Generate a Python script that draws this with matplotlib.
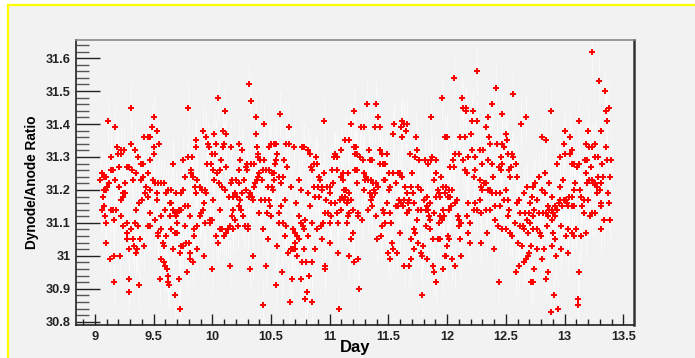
import numpy as np
import matplotlib
matplotlib.use("Agg")
import matplotlib.pyplot as plt
from matplotlib.patches import Rectangle
from matplotlib.lines import Line2D
from matplotlib.ticker import MultipleLocator, FormatStrFormatter

plt.rcParams['font.family'] = ['Liberation Sans', 'DejaVu Sans']

# (day, dynode/anode ratio), grouped by day range
pts_a = [(9.312,31.45),(9.116,31.41),(9.176,31.39),(9.500,31.42),(9.491,31.39),(9.528,31.38),(9.420,31.36),(9.449,31.36),
         (9.471,31.36),(9.312,31.34),(9.545,31.34),(9.193,31.33),(9.500,31.33),(9.338,31.32),(9.227,31.32),(9.250,31.32),
         (9.199,31.31),(9.219,31.31),(9.508,31.31),(9.142,31.30),(9.366,31.30),(9.474,31.29),(9.392,31.28),(9.412,31.28),
         (9.662,31.28),(9.139,31.26),(9.156,31.26),(9.210,31.27),(9.270,31.27),(9.287,31.27),(9.318,31.26),(9.349,31.25),
         (9.060,31.25),(9.077,31.24),(9.048,31.23),(9.094,31.24),(9.412,31.24),(9.454,31.25),(9.176,31.23),(9.327,31.23),
         (9.395,31.23),(9.125,31.22),(9.494,31.23),(9.511,31.22),(9.537,31.22),(9.565,31.22),(9.588,31.22),(9.108,31.21),
         (9.261,31.22),(9.202,31.21),(9.437,31.21),(9.099,31.20),(9.082,31.20),(9.236,31.19),(9.261,31.19),(9.474,31.20),
         (9.625,31.20),(9.645,31.20),(9.690,31.19),(9.605,31.19),(9.429,31.19),(9.071,31.18),(9.244,31.18),(9.449,31.18),
         (9.400,31.17),(9.227,31.17),(9.378,31.16),(9.531,31.19),(9.531,31.17),(9.650,31.16),(9.077,31.15),(9.060,31.14),
         (9.139,31.14),(9.159,31.14),(9.184,31.14),(9.355,31.14),(9.596,31.14),(9.466,31.13),(9.662,31.14),(9.679,31.13),
         (9.091,31.12),(9.219,31.12),(9.560,31.12),(9.636,31.12),(9.165,31.11),(9.511,31.11),(9.099,31.10),(9.270,31.10),
         (9.338,31.10),(9.244,31.09),(9.369,31.09),(9.449,31.09),(9.474,31.09),(9.304,31.08),(9.562,31.08),(9.645,31.08),
         (9.278,31.07),(9.534,31.07),(9.679,31.07),(9.537,31.06),(9.605,31.06),(9.270,31.05),(9.321,31.05),(9.389,31.05),
         (9.099,31.04),(9.577,31.04),(9.585,31.03),(9.332,31.03),(9.423,31.03),(9.295,31.02),(9.363,31.02),(9.662,31.02),
         (9.355,31.01),(9.162,31.00),(9.133,30.99),(9.213,31.00),(9.565,30.99),(9.585,30.98),(9.599,30.97),(9.613,30.96),
         (9.619,30.94),(9.287,30.93),(9.551,30.93),(9.165,30.92),(9.619,30.92),(9.628,30.91),(9.380,30.91),(9.287,30.89),
         (9.679,30.88)]

pts_b = [(9.792,31.45),(10.048,31.48),(10.108,31.44),(10.312,31.52),(10.329,31.47),(10.372,31.42),(10.440,31.40),
         (10.372,31.37),(10.380,31.33),(9.917,31.38),(9.943,31.36),(10.011,31.37),(10.091,31.38),(10.116,31.37),
         (9.861,31.35),(9.861,31.33),(9.963,31.34),(10.028,31.34),(10.099,31.34),(9.971,31.33),(10.088,31.33),
         (10.159,31.33),(10.227,31.34),(10.253,31.32),(9.994,31.31),(10.020,31.31),(10.386,31.31),(10.389,31.30),
         (9.792,31.30),(9.824,31.30),(9.747,31.29),(10.074,31.29),(10.233,31.29),(10.406,31.29),(10.440,31.29),
         (9.665,31.28),(9.954,31.28),(9.986,31.28),(10.113,31.27),(10.298,31.28),(10.329,31.28),(10.355,31.28),
         (10.284,31.27),(10.298,31.26),(10.224,31.26),(10.005,31.26),(10.065,31.26),(10.432,31.26),(9.818,31.26),
         (9.815,31.25),(9.770,31.24),(9.838,31.24),(10.040,31.25),(10.400,31.25),(10.389,31.24),(9.872,31.23),
         (10.014,31.23),(10.170,31.23),(10.204,31.23),(10.273,31.23),(10.378,31.23),(10.366,31.22),(9.852,31.21),
         (9.895,31.21),(9.912,31.20),(9.934,31.20),(10.054,31.22),(10.082,31.21),(10.108,31.20),(10.162,31.22),
         (10.227,31.22),(10.355,31.21),(9.747,31.20),(9.738,31.19),(9.863,31.19),(9.946,31.19),(10.190,31.19),
         (10.250,31.19),(10.287,31.20),(10.321,31.19),(10.142,31.18),(10.173,31.18),(10.210,31.18),(10.312,31.18),
         (10.335,31.18),(10.344,31.17),(10.417,31.17),(10.449,31.17),(9.639,31.16),(9.929,31.16),(10.005,31.17),
         (10.238,31.17),(9.713,31.14),(9.764,31.15),(9.795,31.15),(9.917,31.14),(10.065,31.14),(10.179,31.14),
         (10.230,31.15),(10.241,31.14),(9.696,31.13),(9.730,31.14),(9.906,31.13),(10.400,31.13),(9.693,31.12),
         (9.809,31.12),(9.898,31.12),(10.264,31.12),(10.196,31.11),(10.167,31.12),(9.704,31.10),(9.767,31.09),
         (9.872,31.09),(9.937,31.10),(9.977,31.11),(9.997,31.11),(9.977,31.10),(10.153,31.09),(10.221,31.09),
         (10.275,31.09),(10.307,31.09),(10.301,31.08),(9.702,31.07),(9.844,31.08),(10.062,31.08),(10.085,31.08),
         (10.133,31.08),(10.173,31.08),(10.434,31.08),(9.841,31.06),(10.028,31.06),(10.099,31.06),(10.116,31.07),
         (9.738,31.03),(9.755,31.03),(9.778,31.04),(9.798,31.04),(9.724,31.01),(9.807,31.01),(9.869,31.02),
         (10.048,31.04),(9.812,30.99),(9.832,30.98),(9.929,31.00),(10.346,31.00),(9.781,30.95),(9.994,30.96),
         (10.150,30.97),(10.321,30.96),(9.713,30.93),(9.724,30.84),(10.434,30.85)]

pts_c = [(10.577,31.43),(10.657,31.39),(10.955,31.41),(11.208,31.44),(11.185,31.40),(11.131,31.35),(11.168,31.35),
         (10.504,31.34),(10.523,31.34),(10.541,31.34),(10.629,31.34),(10.657,31.34),(10.765,31.33),(10.779,31.33),
         (10.697,31.33),(10.487,31.33),(10.816,31.32),(10.833,31.31),(10.555,31.31),(11.046,31.31),(11.038,31.30),
         (11.063,31.30),(11.100,31.32),(11.214,31.31),(10.543,31.29),(10.612,31.29),(10.884,31.30),(10.532,31.28),
         (10.867,31.28),(10.893,31.28),(10.839,31.27),(10.634,31.27),(11.214,31.26),(11.154,31.25),(10.455,31.26),
         (10.481,31.26),(10.506,31.25),(10.845,31.26),(11.023,31.26),(11.066,31.26),(11.112,31.25),(10.947,31.25),
         (10.907,31.24),(10.566,31.24),(10.600,31.24),(10.526,31.25),(10.739,31.23),(10.424,31.23),(10.529,31.23),
         (11.026,31.22),(11.100,31.24),(11.114,31.23),(10.918,31.23),(10.589,31.22),(10.674,31.21),(10.475,31.21),
         (10.509,31.21),(10.521,31.20),(10.754,31.20),(10.864,31.21),(10.896,31.21),(10.933,31.21),(10.975,31.21),
         (11.001,31.21),(10.935,31.20),(10.816,31.19),(11.006,31.19),(11.123,31.20),(11.140,31.20),(10.481,31.17),
         (10.873,31.18),(10.907,31.18),(11.106,31.18),(11.129,31.18),(11.168,31.19),(10.623,31.17),(10.969,31.17),
         (11.089,31.17),(11.157,31.17),(11.185,31.17),(11.049,31.16),(11.012,31.16),(10.717,31.16),(10.492,31.15),
         (10.589,31.15),(10.833,31.15),(11.120,31.17),(11.146,31.16),(11.100,31.14),(10.464,31.13),(10.566,31.13),
         (10.961,31.13),(10.984,31.13),(11.058,31.13),(11.160,31.13),(11.202,31.14),(10.498,31.12),(10.742,31.12),
         (10.791,31.11),(11.012,31.12),(11.157,31.12),(10.569,31.10),(10.606,31.10),(10.756,31.10),(10.847,31.10),
         (10.944,31.10),(10.998,31.10),(11.069,31.10),(11.143,31.10),(10.924,31.09),(10.629,31.09),(10.691,31.08),
         (10.771,31.09),(10.779,31.08),(10.890,31.08),(10.702,31.07),(11.202,31.07),(10.478,31.05),(10.620,31.06),
         (10.722,31.06),(10.739,31.05),(10.819,31.06),(10.935,31.05),(11.177,31.05),(10.552,31.03),(10.700,31.04),
         (10.685,31.02),(10.666,31.02),(10.702,31.02),(10.785,31.02),(10.876,31.02),(10.998,31.04),(10.648,31.01),
         (11.072,31.01),(10.725,31.00),(11.166,31.00),(11.205,30.98),(10.765,30.98),(10.802,30.98),(10.845,30.98),
         (10.458,30.97),(10.958,30.97),(10.961,30.96),(10.594,30.95),(10.827,30.94),(10.680,30.93),(10.756,30.93),
         (10.543,30.91),(10.810,30.89),(10.791,30.87),(10.663,30.86),(10.850,30.86),(11.083,30.84)]

pts_d = [(11.313,31.46),(11.398,31.46),(11.407,31.42),(11.952,31.48),(11.859,31.42),(11.614,31.41),(11.634,31.40),
         (11.660,31.40),(11.543,31.40),(11.262,31.39),(11.288,31.39),(11.381,31.39),(11.424,31.39),(11.603,31.39),
         (11.646,31.38),(11.535,31.37),(11.611,31.36),(11.731,31.36),(11.981,31.36),(11.208,31.33),(11.225,31.33),
         (11.424,31.32),(11.330,31.32),(11.742,31.32),(11.810,31.29),(11.870,31.30),(11.859,31.29),(11.907,31.29),
         (11.228,31.31),(11.259,31.30),(11.279,31.29),(11.441,31.31),(11.484,31.31),(11.680,31.31),(11.722,31.30),
         (11.342,31.29),(11.359,31.29),(11.762,31.29),(11.427,31.28),(11.450,31.28),(11.469,31.28),(11.839,31.28),
         (11.231,31.26),(11.506,31.25),(11.538,31.25),(11.580,31.25),(11.594,31.25),(11.702,31.25),(11.907,31.25),
         (11.947,31.24),(11.288,31.25),(11.308,31.24),(11.327,31.23),(11.364,31.22),(11.350,31.23),(11.299,31.23),
         (11.228,31.22),(11.458,31.23),(11.472,31.23),(11.560,31.22),(11.611,31.24),(11.887,31.23),(11.293,31.20),
         (11.373,31.20),(11.413,31.21),(11.398,31.22),(11.637,31.21),(11.688,31.21),(11.754,31.21),(11.773,31.20),
         (11.924,31.20),(11.964,31.21),(11.344,31.19),(11.384,31.19),(11.515,31.21),(11.506,31.20),(11.654,31.19),
         (11.705,31.19),(11.930,31.19),(11.941,31.18),(11.907,31.18),(11.981,31.19),(11.362,31.18),(11.350,31.17),
         (11.592,31.17),(11.631,31.17),(11.677,31.17),(11.827,31.18),(11.799,31.17),(11.489,31.16),(11.606,31.16),
         (11.668,31.16),(11.560,31.15),(11.577,31.15),(11.623,31.15),(11.714,31.16),(11.853,31.16),(11.356,31.15),
         (11.325,31.14),(11.450,31.14),(11.674,31.14),(11.754,31.14),(11.776,31.14),(11.816,31.14),(11.830,31.15),
         (11.839,31.14),(11.242,31.13),(11.458,31.13),(11.890,31.13),(11.393,31.12),(11.242,31.12),(11.515,31.13),
         (11.654,31.13),(11.844,31.12),(11.935,31.12),(11.952,31.11),(11.271,31.11),(11.742,31.11),(11.850,31.11),
         (11.467,31.10),(11.521,31.10),(11.816,31.09),(11.930,31.10),(11.441,31.09),(11.850,31.08),(11.717,31.08),
         (11.728,31.07),(11.594,31.07),(11.435,31.06),(11.401,31.05),(11.691,31.05),(11.879,31.05),(11.918,31.05),
         (11.941,31.05),(11.526,31.04),(11.748,31.04),(11.790,31.03),(11.535,31.02),(11.714,31.02),(11.492,31.01),
         (11.572,31.01),(11.773,31.01),(11.788,31.00),(11.509,30.99),(11.694,30.99),(11.827,30.99),(11.242,30.99),
         (11.984,31.00),(11.629,30.97),(11.674,30.97),(11.876,30.97),(11.961,30.96),(11.887,30.95),(11.901,30.92),
         (11.245,30.90),(11.782,30.88)]

pts_e = [(12.254,31.56),(12.055,31.54),(12.126,31.48),(12.415,31.51),(12.560,31.49),(12.381,31.46),(12.134,31.45),
         (12.157,31.45),(12.157,31.44),(12.217,31.44),(12.464,31.43),(12.350,31.42),(12.674,31.42),(12.629,31.40),
         (12.211,31.41),(12.254,31.41),(12.330,31.39),(12.202,31.37),(11.998,31.36),(12.111,31.36),(12.154,31.36),
         (12.359,31.36),(12.501,31.37),(12.512,31.35),(12.364,31.34),(12.427,31.34),(12.464,31.34),(12.481,31.33),
         (12.211,31.32),(12.276,31.32),(12.305,31.32),(12.069,31.31),(12.097,31.31),(12.180,31.30),(12.239,31.30),
         (12.134,31.29),(12.049,31.29),(12.350,31.29),(12.461,31.30),(12.518,31.31),(12.555,31.31),(12.563,31.30),
         (12.026,31.27),(12.055,31.27),(12.293,31.28),(12.378,31.28),(12.469,31.28),(12.589,31.28),(12.526,31.26),
         (12.546,31.27),(12.441,31.27),(12.458,31.26),(12.151,31.26),(12.168,31.25),(12.239,31.26),(12.228,31.24),
         (12.276,31.23),(12.316,31.22),(12.333,31.22),(12.390,31.24),(12.538,31.24),(12.597,31.24),(12.748,31.22),
         (12.734,31.21),(11.989,31.21),(12.018,31.20),(12.043,31.20),(12.288,31.21),(12.299,31.20),(12.347,31.20),
         (12.361,31.20),(12.379,31.19),(12.413,31.19),(12.452,31.19),(12.498,31.20),(12.680,31.21),(12.003,31.18),
         (12.026,31.18),(12.657,31.19),(12.725,31.18),(12.080,31.17),(12.066,31.16),(12.180,31.16),(12.236,31.16),
         (12.276,31.17),(12.486,31.17),(12.521,31.17),(12.611,31.17),(12.594,31.16),(12.029,31.15),(12.018,31.14),
         (11.964,31.14),(12.225,31.14),(12.254,31.14),(12.285,31.13),(12.330,31.14),(12.361,31.14),(12.407,31.15),
         (12.447,31.15),(12.526,31.14),(11.972,31.12),(12.092,31.12),(12.165,31.12),(12.515,31.12),(12.623,31.13),
         (12.660,31.13),(12.700,31.13),(12.734,31.12),(12.100,31.11),(12.120,31.10),(12.197,31.10),(12.404,31.11),
         (12.577,31.10),(12.683,31.11),(12.702,31.10),(12.100,31.09),(12.623,31.09),(12.646,31.09),(12.435,31.09),
         (12.467,31.08),(12.501,31.08),(12.734,31.08),(12.651,31.08),(12.691,31.07),(12.003,31.06),(12.015,31.05),
         (12.109,31.05),(12.174,31.07),(12.339,31.07),(12.552,31.06),(12.600,31.04),(12.637,31.03),(12.711,31.03),
         (12.535,31.07),(11.998,31.03),(12.194,31.04),(12.290,31.04),(12.401,31.02),(11.986,31.00),(12.117,31.00),
         (12.040,30.99),(12.694,31.01),(12.685,31.00),(12.671,30.99),(12.654,30.98),(12.066,30.97),(12.736,30.96),
         (12.611,30.97),(12.589,30.95),(12.441,30.92),(12.711,30.92),(12.734,30.92)]

pts_f = [(13.236,31.62),(13.288,31.53),(13.339,31.50),(13.373,31.45),(13.350,31.44),(12.887,31.44),(13.126,31.41),
         (13.356,31.41),(12.810,31.36),(12.844,31.35),(13.003,31.38),(13.043,31.36),(13.202,31.38),(13.305,31.38),
         (12.998,31.34),(13.180,31.34),(13.256,31.34),(13.205,31.33),(13.231,31.33),(13.350,31.33),(13.066,31.32),
         (13.043,31.31),(13.001,31.31),(12.964,31.30),(13.171,31.29),(13.191,31.29),(13.259,31.30),(13.282,31.30),
         (13.356,31.29),(13.393,31.29),(13.319,31.28),(13.228,31.27),(12.935,31.28),(13.066,31.28),(13.083,31.28),
         (13.120,31.28),(13.106,31.27),(12.833,31.25),(12.785,31.24),(12.984,31.23),(13.180,31.25),(13.285,31.24),
         (13.322,31.24),(13.384,31.24),(13.208,31.23),(13.236,31.23),(13.194,31.22),(12.870,31.22),(13.092,31.22),
         (12.964,31.21),(13.242,31.22),(13.256,31.22),(13.279,31.21),(13.299,31.20),(13.310,31.22),(12.810,31.20),
         (12.833,31.19),(13.083,31.20),(13.134,31.20),(13.279,31.19),(13.367,31.19),(12.765,31.17),(12.890,31.18),
         (13.040,31.18),(13.060,31.18),(13.137,31.18),(13.163,31.17),(13.197,31.17),(12.964,31.17),(12.952,31.16),
         (12.995,31.17),(13.015,31.17),(13.023,31.16),(12.708,31.16),(13.032,31.15),(13.066,31.15),(13.083,31.15),
         (13.148,31.15),(13.313,31.16),(13.376,31.16),(13.313,31.15),(12.861,31.15),(12.890,31.14),(12.921,31.15),
         (12.935,31.14),(12.981,31.15),(12.864,31.14),(12.736,31.14),(12.785,31.13),(12.813,31.13),(12.844,31.13),
         (12.904,31.13),(13.168,31.13),(13.236,31.13),(13.256,31.13),(13.219,31.12),(12.856,31.12),(12.895,31.11),
         (12.918,31.12),(13.333,31.11),(13.384,31.11),(12.850,31.09),(12.972,31.09),(13.026,31.08),(13.100,31.08),
         (13.060,31.07),(13.077,31.06),(13.009,31.06),(13.143,31.06),(13.185,31.07),(13.305,31.08),(12.765,31.08),
         (12.793,31.07),(12.799,31.06),(12.901,31.07),(12.921,31.05),(12.765,31.02),(12.827,31.02),(12.893,31.03),
         (12.969,31.02),(12.930,31.00),(13.032,31.01),(12.807,30.99),(12.859,30.95),(13.123,30.95),(12.844,30.93),
         (12.907,30.88),(13.111,30.87),(13.117,30.85),(12.946,30.84),(12.884,30.83)]

err_ratio = 0.07  # faint white error bars

all_pts = np.array(pts_a + pts_b + pts_c + pts_d + pts_e + pts_f)
day = all_pts[:, 0]
ratio = all_pts[:, 1]

W, H = 695, 358
fig = plt.figure(figsize=(W / 100, H / 100), dpi=100, facecolor='#f2f2f2')

# ROOT-style canvas frame: white strip + yellow border top/left
fig.add_artist(Rectangle((0, 0), 7 / W, 1, transform=fig.transFigure, facecolor='white', edgecolor='none'))
fig.add_artist(Rectangle((0, 1 - 4 / H), 1, 4 / H, transform=fig.transFigure, facecolor='white', edgecolor='none'))
fig.add_artist(Line2D([8 / W, 8 / W], [0, 1 - 4.5 / H], transform=fig.transFigure, color='#ffff00', lw=1.6))
fig.add_artist(Line2D([8 / W, 1], [1 - 4.5 / H, 1 - 4.5 / H], transform=fig.transFigure, color='#ffff00', lw=1.6))

ax = fig.add_axes([76 / W, 1 - 325 / H, (634 - 76) / W, (325 - 40) / H])
ax.set_facecolor('#f2f2f2')

ax.errorbar(day, ratio, yerr=err_ratio, fmt='none', ecolor='white', elinewidth=0.6, alpha=0.7, zorder=2)
ax.plot(day, ratio, linestyle='none', marker='P', markersize=3.8, color='#ff0000', markeredgewidth=0, zorder=3)

ax.set_xlim(8.84, 13.59)
ax.set_ylim(30.79, 31.655)

ax.xaxis.set_major_locator(MultipleLocator(0.5))
ax.xaxis.set_minor_locator(MultipleLocator(0.1))
ax.yaxis.set_major_locator(MultipleLocator(0.1))
ax.yaxis.set_minor_locator(MultipleLocator(0.02))
ax.xaxis.set_major_formatter(FormatStrFormatter('%g'))
ax.yaxis.set_major_formatter(FormatStrFormatter('%g'))

ax.tick_params(axis='x', which='major', direction='in', length=8, width=1, colors='#222222', pad=4)
ax.tick_params(axis='x', which='minor', direction='in', length=4, width=1, colors='#222222')
ax.tick_params(axis='y', which='major', direction='in', length=17, width=1, colors='#222222', pad=4)
ax.tick_params(axis='y', which='minor', direction='in', length=9, width=1, colors='#555555')
for lab in ax.get_xticklabels() + ax.get_yticklabels():
    lab.set_fontweight('bold')
    lab.set_fontsize(9.2)

for side in ['left', 'bottom']:
    ax.spines[side].set_color('#222222')
    ax.spines[side].set_linewidth(1.2)
ax.spines['top'].set_color('#888888')
ax.spines['top'].set_linewidth(1.2)
ax.spines['right'].set_color('#333333')
ax.spines['right'].set_linewidth(1.8)

ax.set_xlabel('Day', fontsize=12, fontweight='bold', va='center')
ax.xaxis.set_label_coords(0.5, -0.078)
ax.set_ylabel('Dynode/Anode Ratio', fontsize=9.8, fontweight='bold', va='center')
ax.yaxis.set_label_coords(-0.079, 0.5)

fig.savefig('out.png', dpi=100, facecolor=fig.get_facecolor())
